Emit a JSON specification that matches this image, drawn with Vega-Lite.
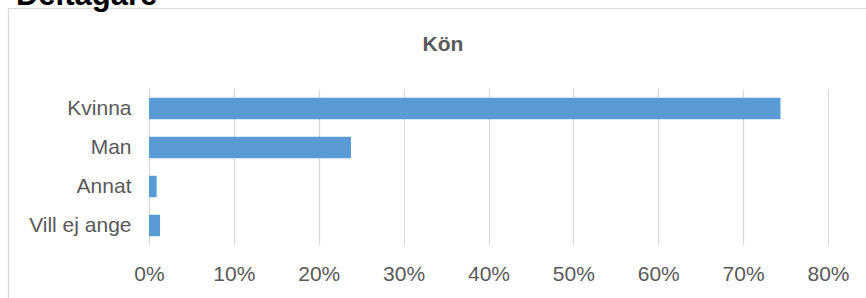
{
  "$schema": "https://vega.github.io/schema/vega-lite/v6.json",
  "autosize": {"type": "none"},
  "width": 679,
  "height": 156,
  "padding": {"left": 149, "top": 89, "right": 38, "bottom": 53},
  "background": "white",
  "title": {
    "text": "Deltagare",
    "anchor": "start",
    "frame": "bounds",
    "font": "Liberation Sans",
    "fontSize": 31,
    "fontWeight": "bold",
    "color": "#000000",
    "baseline": "alphabetic",
    "offset": 0,
    "dy": 28,
    "dx": 8
  },
  "config": {
    "view": {"stroke": null},
    "font": "Liberation Sans"
  },
  "layer": [
    {
      "data": {"values": [{"x0": -0.2069, "x1": 1.0722, "y0": -0.4167, "y1": 1.516}]},
      "mark": {"type": "rect", "fill": "white", "fillOpacity": 0, "stroke": "#d9d9d9", "strokeWidth": 1.2},
      "encoding": {
        "x": {"field": "x0", "type": "quantitative", "scale": {"domain": [0, 1], "nice": false, "zero": false},
          "axis": {"orient": "top", "title": "Kön", "labels": false, "ticks": false, "domain": false, "grid": false,
            "titleFont": "Liberation Sans", "titleFontSize": 21, "titleFontWeight": "bold", "titleColor": "#595959",
            "titlePadding": 35, "titleX": 293.5, "titleAlign": "center"}},
        "x2": {"field": "x1"},
        "y": {"field": "y0", "type": "quantitative", "scale": {"domain": [0, 1], "nice": false, "zero": false}, "axis": null},
        "y2": {"field": "y1"}
      }
    },
    {
      "data": {"values": [
        {"kategori": "Kvinna", "andel": 0.744},
        {"kategori": "Man", "andel": 0.238},
        {"kategori": "Annat", "andel": 0.009},
        {"kategori": "Vill ej ange", "andel": 0.013}
      ]},
      "mark": {"type": "bar", "color": "#5b9bd5"},
      "encoding": {
        "y": {"field": "kategori", "type": "nominal", "sort": null,
          "scale": {"paddingInner": 0.45, "paddingOuter": 0.225},
          "axis": {"title": null, "ticks": false, "domain": false, "grid": false, "labelPadding": 18,
            "labelFont": "Liberation Sans", "labelFontSize": 21, "labelColor": "#595959", "orient": "left"}},
        "x": {"field": "andel", "type": "quantitative",
          "scale": {"domain": [0, 0.8], "nice": false},
          "axis": {"orient": "bottom", "title": null, "values": [0, 0.1, 0.2, 0.3, 0.4, 0.5, 0.6, 0.7, 0.8], "format": ".0%",
            "ticks": false, "domain": false, "grid": true, "gridColor": "#d9d9d9", "gridWidth": 1.2,
            "labelPadding": 18, "labelFont": "Liberation Sans", "labelFontSize": 21, "labelColor": "#595959", "labelFlush": false}}
      }
    }
  ],
  "resolve": {"scale": {"x": "independent", "y": "independent"}}
}
